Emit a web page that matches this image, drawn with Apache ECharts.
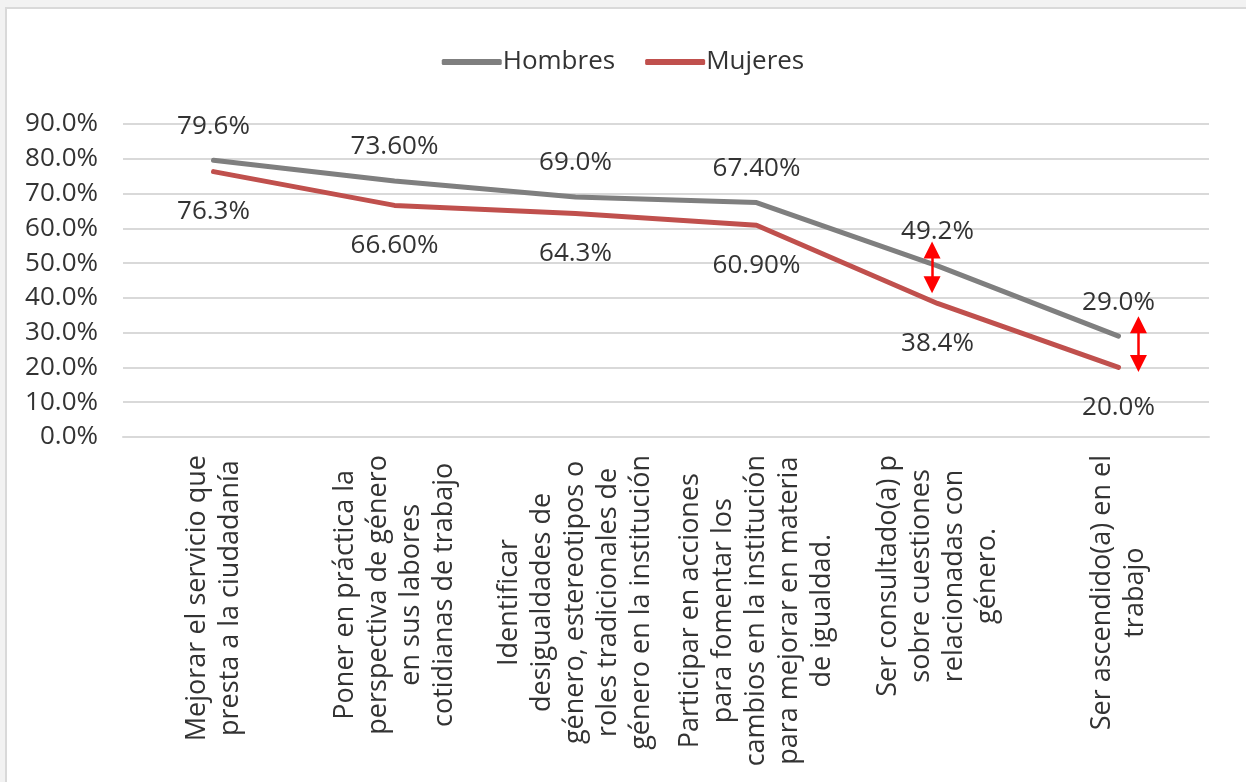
<!DOCTYPE html>
<html>
<head>
<meta charset="utf-8">
<script src="https://cdn.jsdelivr.net/npm/echarts@6/dist/echarts.min.js"></script>
<style>
  html, body { margin: 0; padding: 0; width: 1246px; height: 782px; overflow: hidden; background: #f2f2f2; }
  #panel { position: absolute; left: 5px; top: 7px; width: 1300px; height: 900px; background: #fff; border: 2px solid #d9d9d9; box-sizing: border-box; }
  #chart { position: absolute; left: 0; top: 0; width: 1246px; height: 782px; }
</style>
</head>
<body>
<div id="panel"></div>
<div id="chart"></div>
<script>
// Categories (line breaks as in the axis labels)
const categories = [
  'Mejorar el servicio que\npresta a la ciudadanía',
  'Poner en práctica la\nperspectiva de género\nen sus labores\ncotidianas de trabajo',
  'Identificar\ndesigualdades de\ngénero, estereotipos o\nroles tradicionales de\ngénero en la institución',
  'Participar en acciones\npara fomentar los\ncambios en la institución\npara mejorar en materia\nde igualdad.',
  'Ser consultado(a) p\nsobre cuestiones\nrelacionadas con\ngénero.',
  'Ser ascendido(a) en el\ntrabajo'
];

// Percent values, kept as text so each label shows its own decimals
const hombres = ['79.6', '73.60', '69.0', '67.40', '49.2', '29.0'];
const mujeres = ['76.3', '66.60', '64.3', '60.90', '38.4', '20.0'];

// Y axis ticks (percent)
const yMin = 0, yMax = 90, yStep = 10;

// Gap arrows: [x position on the category scale, top %, bottom %]
const gapArrows = [
  [3.97, 53.8, 43.8],
  [5.11, 32.3, 21.1]
];

const FONT = '"Open Sans", sans-serif';
const TEXT = '#333333';

const toData = arr => arr.map(s => ({ value: parseFloat(s), text: s + '%' }));

const chart = echarts.init(document.getElementById('chart'), null, { renderer: 'canvas' });

chart.setOption({
  backgroundColor: 'transparent',
  textStyle: { fontFamily: FONT, color: TEXT },
  legend: {
    data: ['Hombres', 'Mujeres'],
    top: 44,
    left: 'center',
    icon: 'roundRect',
    itemWidth: 60,
    itemHeight: 6,
    itemGap: 30,
    textStyle: { fontFamily: FONT, fontSize: 26, color: TEXT, padding: [0, 0, 0, -4] }
  },
  grid: { left: 123, right: 37, top: 124, bottom: 345, containLabel: false },
  xAxis: [
    {
      type: 'category',
      data: categories,
      boundaryGap: true,
      axisLine: { show: true, lineStyle: { color: '#d9d9d9', width: 2 } },
      axisTick: { show: false },
      axisLabel: {
        interval: 0,
        rotate: 90,
        margin: 18,
        fontFamily: FONT,
        fontSize: 27,
        color: TEXT,
        richInheritPlainLabel: false,
        formatter: v => v.split('\n').map(l => '{c|' + l + '}').join('\n'),
        rich: { c: { align: 'center', fontFamily: FONT, fontSize: 27, lineHeight: 33, color: TEXT } }
      }
    },
    { type: 'value', min: -0.5, max: 5.5, show: false }
  ],
  yAxis: {
    type: 'value',
    min: yMin,
    max: yMax,
    interval: yStep,
    axisLine: { show: false },
    axisTick: { show: false },
    splitLine: { lineStyle: { color: '#d9d9d9', width: 2 } },
    axisLabel: {
      margin: 25,
      fontFamily: FONT,
      fontSize: 26,
      color: TEXT,
      formatter: v => v.toFixed(1) + '%'
    }
  },
  series: [
    {
      name: 'Hombres',
      type: 'line',
      data: toData(hombres),
      symbol: 'circle',
      symbolSize: 0,
      showSymbol: true,
      color: '#7f7f7f',
      lineStyle: { width: 5, color: '#7f7f7f', cap: 'round', join: 'round' },
      label: {
        show: true,
        position: 'top',
        distance: 21,
        fontFamily: FONT,
        fontSize: 26,
        color: TEXT,
        formatter: p => p.data.text
      },
      z: 3
    },
    {
      name: 'Mujeres',
      type: 'line',
      data: toData(mujeres),
      symbol: 'circle',
      symbolSize: 0,
      showSymbol: true,
      color: '#c0504d',
      lineStyle: { width: 5, color: '#c0504d', cap: 'round', join: 'round' },
      label: {
        show: true,
        position: 'bottom',
        distance: 27,
        fontFamily: FONT,
        fontSize: 26,
        color: TEXT,
        formatter: p => p.data.text
      },
      z: 3
    },
    {
      name: 'gap',
      type: 'line',
      xAxisIndex: 1,
      data: [],
      silent: true,
      markLine: {
        silent: true,
        symbol: ['triangle', 'triangle'],
        symbolSize: [17, 17],
        label: { show: false },
        lineStyle: { color: '#ff0000', width: 2.5, type: 'solid' },
        emphasis: { disabled: true },
        data: gapArrows.map(a => [{ coord: [a[0], a[1]] }, { coord: [a[0], a[2]] }])
      },
      z: 5
    }
  ],
  animation: false
});
</script>
</body>
</html>
